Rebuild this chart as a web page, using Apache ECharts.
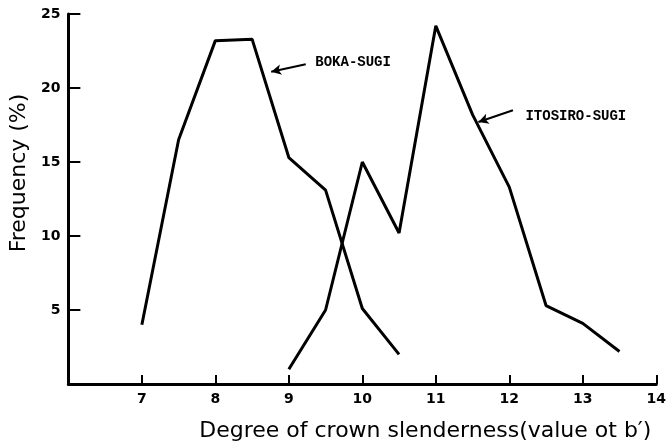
<!DOCTYPE html>
<html>
<head>
<meta charset="utf-8">
<script src="https://cdn.jsdelivr.net/npm/echarts@6/dist/echarts.min.js"></script>
<style>html,body{margin:0;padding:0;background:#fff;}#c{width:669px;height:447px;}</style>
</head>
<body>
<div id="c"></div>
<script>
// Data
const bokaX = [7, 7.5, 8, 8.5, 9, 9.5, 10, 10.5];
const bokaY = [4.0, 16.5, 23.2, 23.3, 15.3, 13.1, 5.1, 2.0];
const itosiroX = [9, 9.5, 10, 10.5, 11, 11.5, 12, 12.5, 13, 13.5];
const itosiroY = [1.0, 5.0, 15.0, 10.2, 24.2, 18.2, 13.3, 5.3, 4.1, 2.2];
const xTicks = [7, 8, 9, 10, 11, 12, 13, 14];
const yTicks = [5, 10, 15, 20, 25];
const seriesNames = ['BOKA-SUGI', 'ITOSIRO-SUGI'];
// annotation anchors (data units)
const bokaLabelAt = [9.36, 21.7];
const bokaArrow = [[9.23, 21.6], [8.76, 21.1]];
const itoLabelAt = [12.22, 18.1];
const itoArrow = [[12.05, 18.5], [11.58, 17.7]];

const chart = echarts.init(document.getElementById('c'), null, {renderer: 'canvas'});
const hand = '"DejaVu Sans", sans-serif';
const mono = '"Liberation Mono", "DejaVu Sans Mono", monospace';

function annot(labelAt, arrow, name) {
  return {
    markLine: {
      silent: true,
      symbol: ['none', 'arrow'],
      symbolSize: [8, 10],
      label: {show: false},
      lineStyle: {color: '#000', width: 2, type: 'solid', curveness: 0.1},
      data: [[{coord: arrow[0]}, {coord: arrow[1]}]]
    },
    markPoint: {
      silent: true,
      symbol: 'circle',
      symbolSize: 0,
      label: {
        show: true, position: 'right', distance: 0,
        formatter: name, color: '#000', fontFamily: mono,
        fontWeight: 'bold', fontSize: 14
      },
      data: [{coord: labelAt}]
    }
  };
}

const option = {
  backgroundColor: '#fff',
  animation: false,
  grid: {left: 66, right: 6, top: 14, bottom: 63, containLabel: false},
  xAxis: {
    type: 'value', min: 6, max: 14, interval: 1,
    name: 'Degree of crown slenderness(value ot b\u2032)',
    nameLocation: 'middle', nameGap: 36,
    nameTextStyle: {color: '#000', fontFamily: hand, fontSize: 22, padding: [0, 0, 0, 126]},
    axisLine: {show: true, lineStyle: {color: '#000', width: 3}},
    axisTick: {show: true, inside: true, length: 9, lineStyle: {color: '#000', width: 2},
      customValues: xTicks},
    axisLabel: {color: '#000', fontFamily: hand, fontWeight: 'bold', fontSize: 14, margin: 8,
      customValues: xTicks},
    splitLine: {show: false}
  },
  yAxis: {
    type: 'value', min: 0, max: 25, interval: 5,
    name: 'Frequency (%)',
    nameLocation: 'middle', nameGap: 33,
    nameTextStyle: {color: '#000', fontFamily: hand, fontSize: 22, padding: [0, 0, 0, 52]},
    axisLine: {show: true, lineStyle: {color: '#000', width: 3}},
    axisTick: {show: true, inside: true, length: 12, lineStyle: {color: '#000', width: 2},
      customValues: yTicks},
    axisLabel: {color: '#000', fontFamily: hand, fontWeight: 'bold', fontSize: 14, margin: 8,
      customValues: yTicks},
    splitLine: {show: false}
  },
  series: [
    Object.assign({
      name: seriesNames[0], type: 'line', symbol: 'none',
      lineStyle: {color: '#000', width: 3}, itemStyle: {color: '#000'},
      data: bokaX.map((x, i) => [x, bokaY[i]])
    }, annot(bokaLabelAt, bokaArrow, seriesNames[0])),
    Object.assign({
      name: seriesNames[1], type: 'line', symbol: 'none',
      lineStyle: {color: '#000', width: 3}, itemStyle: {color: '#000'},
      data: itosiroX.map((x, i) => [x, itosiroY[i]])
    }, annot(itoLabelAt, itoArrow, seriesNames[1]))
  ]
};
chart.setOption(option);
</script>
</body>
</html>
